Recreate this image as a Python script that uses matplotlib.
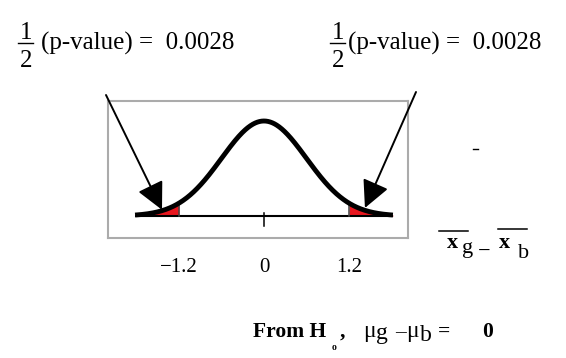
import numpy as np
import matplotlib
matplotlib.use("Agg")
import matplotlib.pyplot as plt

# ---- data ----
half_p_value = 0.0028
cutoff = 1.2
mean = 0.0
sigma = 0.6
curve_extent = 1.82
tick_values = [-1.2, 0.0, 1.2]
tick_labels = ["\u22121.2", "0", "1.2"]

SERIF = ["Liberation Serif", "DejaVu Serif"]

W, H = 566, 358
fig = plt.figure(figsize=(W / 100, H / 100), dpi=100)

# curve axes (the gray box)
bx0, bx1, by0, by1 = 108, 408, 101, 238
ax = fig.add_axes([bx0 / W, (H - by1) / H, (bx1 - bx0) / W, (by1 - by0) / H])
px_per_unit = 85 / 1.2
base_y, peak_px = 216, 95
ax.set_xlim((bx0 - 264) / px_per_unit, (bx1 - 264) / px_per_unit)
ax.set_ylim((base_y - by1) / peak_px, (base_y - by0) / peak_px)
ax.set_xticks([]); ax.set_yticks([])
for s in ax.spines.values():
    s.set_color("#ababab"); s.set_linewidth(1.5)

x = np.linspace(-curve_extent, curve_extent, 600)
y = np.exp(-0.5 * ((x - mean) / sigma) ** 2)

# baseline
ax.plot([-curve_extent, curve_extent], [0, 0], color="black", lw=1.5, solid_capstyle="butt", zorder=2)
# red tails
ax.fill_between(x, 0, y, where=(x <= -cutoff), color="#e8161e", lw=0, zorder=1)
ax.fill_between(x, 0, y, where=(x >= cutoff), color="#e8161e", lw=0, zorder=1)
# cutoff lines
for c in (-cutoff, cutoff):
    yc = np.exp(-0.5 * ((c - mean) / sigma) ** 2)
    ax.plot([c, c], [0, yc], color="#444444", lw=1.1, zorder=2)
# center tick
ax.plot([mean, mean], [0.03, -0.105], color="black", lw=1.1, zorder=2)
# curve
ax.plot(x, y, color="black", lw=3.5, solid_capstyle="butt", zorder=3)

# overlay axes in pixel coordinates
ov = fig.add_axes([0, 0, 1, 1])
ov.set_xlim(0, W); ov.set_ylim(H, 0)
ov.axis("off"); ov.set_facecolor("none")

# arrows
arrow_specs = [((106, 95), (-1.44, 0.065)), ((416, 92), (1.425, 0.085))]
for start, tip in arrow_specs:
    ov.annotate("", xy=tip, xycoords=ax.transData, xytext=start, textcoords=ov.transData,
                arrowprops=dict(arrowstyle="-|>,head_length=1.2,head_width=0.6", mutation_scale=14,
                                color="black", lw=1.4, shrinkA=0, shrinkB=0), zorder=5)

# tick labels
for v, lab in zip(tick_values, tick_labels):
    xp = 264 + v * px_per_unit
    ov.text(xp, 268, lab, ha="center", va="center", fontsize=15, family=SERIF)

# top annotations: 1/2 (p-value) = 0.0028
fs_top = 18
for fx, tx in ((26, 41), (338, 348)):
    ov.text(fx, 39, "1", ha="center", va="baseline", fontsize=fs_top, family=SERIF)
    ov.plot([fx - 8, fx + 7], [43, 43], color="black", lw=1.0)
    ov.text(fx, 67, "2", ha="center", va="baseline", fontsize=fs_top, family=SERIF)
    ov.text(tx, 50, "(p-value) =  %.4f" % half_p_value, ha="left", va="baseline",
            fontsize=fs_top, family=SERIF)

# tiny dash
ov.plot([473, 478], [149, 149], color="black", lw=1.0)

# x̄g − x̄b label
ov.plot([439, 468], [231, 231], color="black", lw=1.1)
ov.text(447, 248, "x", ha="left", va="baseline", fontsize=16, fontweight="bold", family=SERIF)
ov.text(462, 253, "g", ha="left", va="baseline", fontsize=16, family=SERIF)
ov.text(478, 252, "\u2212", ha="left", va="center", fontsize=16, family=SERIF)
ov.plot([498, 527], [229, 229], color="black", lw=1.1)
ov.text(499, 248, "x", ha="left", va="baseline", fontsize=16, fontweight="bold", family=SERIF)
ov.text(518, 258, "b", ha="left", va="baseline", fontsize=16, family=SERIF)

# bottom line: From H_o, μg − μb = 0
fs_b = 15.5
ov.text(253, 337, "From H", ha="left", va="baseline", fontsize=fs_b, fontweight="bold", family=SERIF)
ov.text(332, 350, "o", ha="left", va="baseline", fontsize=7, fontweight="bold", family=SERIF)
ov.text(340, 337, ",", ha="left", va="baseline", fontsize=fs_b, fontweight="bold", family=SERIF)
ov.text(363, 337, "\u03bc", ha="left", va="baseline", fontsize=17, family=SERIF)
ov.text(376, 339, "g", ha="left", va="baseline", fontsize=17, family=SERIF)
ov.text(395, 333, "\u2013", ha="left", va="center", fontsize=fs_b, family=SERIF)
ov.text(406, 337, "\u03bc", ha="left", va="baseline", fontsize=17, family=SERIF)
ov.text(420, 341, "b", ha="left", va="baseline", fontsize=17, family=SERIF)
ov.text(438, 337, "=", ha="left", va="baseline", fontsize=fs_b, fontweight="bold", family=SERIF)
ov.text(482, 337, "0", ha="left", va="baseline", fontsize=fs_b, fontweight="bold", family=SERIF)

fig.savefig("out.png", dpi=100)
